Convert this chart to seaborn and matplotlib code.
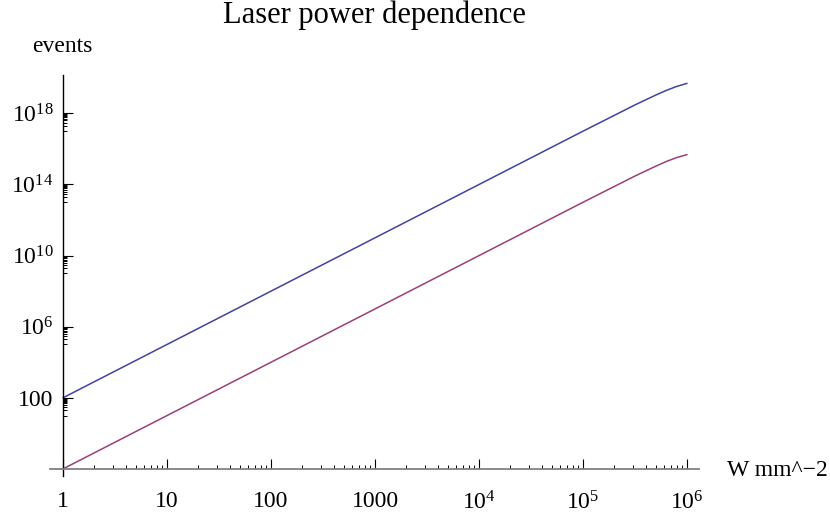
import numpy as np
import pandas as pd
import matplotlib
matplotlib.use("Agg")
import matplotlib.pyplot as plt
import matplotlib.ticker as mticker
import seaborn as sns

# ===============================
# DATA
# ===============================

intensity = [1, 10, 100, 1e3, 1e4, 1e5, 3.16e5, 5e5, 6.3e5, 7.9e5, 1e6]
events_a = [1e2, 1e5, 1e8, 1e11, 1e14, 1e17, 3.0e18, 1.07e19, 1.95e19, 3.24e19, 4.9e19]
events_b = [1e-2, 1e1, 1e4, 1e7, 1e10, 1e13, 3.0e14, 1.07e15, 1.95e15, 3.24e15, 4.8e15]

x_ticks = [1, 10, 100, 1000, 1e4, 1e5, 1e6]
x_labels = ["1", "10", "100", "1000", "$10^{4}$", "$10^{5}$", "$10^{6}$"]
y_ticks = [1e2, 1e6, 1e10, 1e14, 1e18]
y_labels = ["100", "$10^{6}$", "$10^{10}$", "$10^{14}$", "$10^{18}$"]

df = pd.concat([
    pd.DataFrame({"I": intensity, "events": events_a, "curve": "a"}),
    pd.DataFrame({"I": intensity, "events": events_b, "curve": "b"}),
])

# ===============================
# STYLE
# ===============================

sns.set_style("white")
plt.rcParams["font.family"] = ["Liberation Serif", "DejaVu Serif"]
plt.rcParams["mathtext.fontset"] = "custom"
plt.rcParams["mathtext.rm"] = "Liberation Serif"
plt.rcParams["mathtext.it"] = "Liberation Serif:italic"
plt.rcParams["text.color"] = "black"
plt.rcParams["xtick.color"] = "black"
plt.rcParams["ytick.color"] = "black"

fig = plt.figure(figsize=(8.3, 5.14), dpi=100)
ax = fig.add_axes([50 / 830, 1 - 476 / 514, 649 / 830, 401 / 514])

sns.lineplot(data=df, x="I", y="events", hue="curve",
             palette=["#4242a2", "#9c3f78"], linewidth=1.1,
             legend=False, ax=ax)

ax.set_xscale("log")
ax.set_yscale("log")
ax.set_xlim(10 ** -0.125, 10 ** 6.115)
ax.set_ylim(10 ** -2.4, 10 ** 20.16)

# axes crossing like Mathematica
ax.spines["top"].set_visible(False)
ax.spines["right"].set_visible(False)
ax.spines["bottom"].set_position(("data", 1e-2))
ax.spines["left"].set_position(("data", 1))
ax.spines["bottom"].set_color("#808080")
ax.spines["left"].set_color("black")
ax.spines["bottom"].set_linewidth(1.3)
ax.spines["left"].set_linewidth(1.0)

x_minor = [k * t for t in x_ticks[:-1] for k in range(2, 10)]
ax.xaxis.set_major_locator(mticker.FixedLocator(x_ticks))
ax.xaxis.set_major_formatter(mticker.FixedFormatter(x_labels))
ax.xaxis.set_minor_locator(mticker.FixedLocator(x_minor))
ax.xaxis.set_minor_formatter(mticker.NullFormatter())

y_minor = [k * t / 10 for t in y_ticks for k in range(1, 10)]
ax.yaxis.set_major_locator(mticker.FixedLocator(y_ticks))
ax.yaxis.set_major_formatter(mticker.FixedFormatter(y_labels))
ax.yaxis.set_minor_locator(mticker.FixedLocator(y_minor))
ax.yaxis.set_minor_formatter(mticker.NullFormatter())

ax.tick_params(which="both", bottom=True, left=True, top=False, right=False)
ax.tick_params(which="major", direction="in", length=7, width=0.8,
               labelsize=17, color="black", labelcolor="black")
ax.tick_params(which="minor", direction="in", length=3, width=0.7,
               color="black")
ax.tick_params(axis="x", pad=16)
ax.tick_params(axis="y", pad=7)

ax.set_xlabel("")
ax.set_ylabel("")

fig.text(374 / 830, 1 - 15 / 514, "Laser power dependence",
         ha="center", va="center", fontsize=22)
fig.text(62 / 830, 1 - 46 / 514, "events", ha="center", va="center", fontsize=17)
fig.text(727 / 830, 1 - 470 / 514, "W mm^\u22122", ha="left", va="center", fontsize=17)

fig.savefig("out.png", dpi=100)
